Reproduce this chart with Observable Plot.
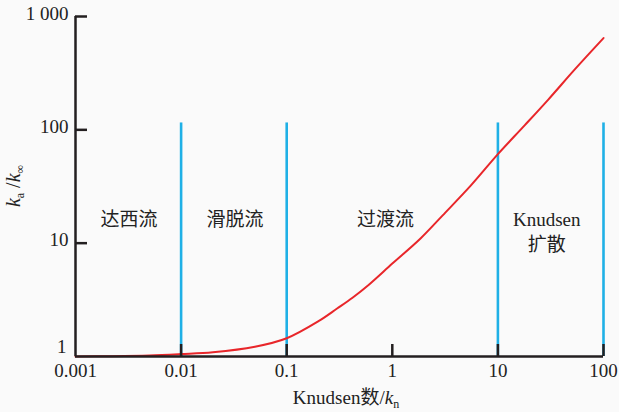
<!DOCTYPE html>
<html lang="zh">
<head>
<meta charset="utf-8">
<script src="https://cdn.jsdelivr.net/npm/d3@7"></script>
<script src="https://cdn.jsdelivr.net/npm/@observablehq/plot@0.6"></script>
<style>
  body { margin: 0; background: #ffffff; }
  #chart svg { background: #fafafa; display: block; }
  #chart svg text, #chart svg tspan { font-family: "Liberation Serif", "Times New Roman", "Noto Sans CJK SC", serif; }
</style>
</head>
<body>
<div id="chart"></div>
<script>
// Knudsen number samples and k_a/k_inf values
const knudsen = [0.001, 0.002, 0.005, 0.01, 0.02, 0.05, 0.1, 0.2, 0.3, 0.42, 0.6, 1, 1.85, 3, 5.5, 10, 18, 30, 54, 100];
const ratio   = [1.0, 1.005, 1.02, 1.05, 1.09, 1.22, 1.45, 2.05, 2.65, 3.3, 4.3, 6.6, 11, 17.6, 32, 61, 110, 185, 345, 645];

// flow-regime boundaries (blue lines) and their top value
const boundaries = [0.01, 0.1, 10, 100];
const boundaryTop = 115;

// regime labels (first line / second line)
const regimeNames = ["达西流", "滑脱流", "过渡流", "Knudsen"];
const regimeNames2 = ["", "", "", "扩散"];
const regimeCenterX = [0.00321, 0.0324, 0.86, 29];
const regimeLine1Y = 16.1;
const regimeLine2Y = 9.7;

// ticks
const xTicks = [0.001, 0.01, 0.1, 1, 10, 100];
const xTickLabels = ["0.001", "0.01", "0.1", "1", "10", "100"];
const yTicks = [1, 10, 100, 1000];
const yTickLabels = ["1", "10", "100", "1 000"];

const curve = knudsen.map((k, i) => ({kn: k, r: ratio[i]}));
const labels1 = regimeNames.map((n, i) => ({x: regimeCenterX[i], y: regimeLine1Y, t: n}));
const labels2 = regimeNames2.map((n, i) => ({x: regimeCenterX[i], y: regimeLine2Y, t: n})).filter(d => d.t);
const xLabelOf = new Map(xTicks.map((t, i) => [t, xTickLabels[i]]));
const yLabelOf = new Map(yTicks.map((t, i) => [t, yTickLabels[i]]));

const font = "\"Liberation Serif\", \"Times New Roman\", \"Noto Sans CJK SC\", serif";

const chart = Plot.plot({
  width: 619,
  height: 412,
  marginLeft: 75,
  marginRight: 16,
  marginTop: 16,
  marginBottom: 56,
  style: {fontSize: "19px", color: "#222", background: "#fafafa"},
  x: {type: "log", domain: [0.001, 100]},
  y: {type: "log", domain: [1, 1000]},
  marks: [
    Plot.ruleX(boundaries, {y1: 1, y2: boundaryTop, stroke: "#1fb0e6", strokeWidth: 2.6}),
    Plot.line(curve, {x: "kn", y: "r", stroke: "#e8262a", strokeWidth: 2, curve: "catmull-rom"}),
    // axis lines
    Plot.ruleY([1], {stroke: "#231f20", strokeWidth: 2.5}),
    Plot.ruleX([0.001], {y1: 1, y2: 1000, stroke: "#231f20", strokeWidth: 2.5}),
    // inward ticks
    Plot.axisX(xTicks.slice(1), {tickSize: -12, stroke: "#231f20", strokeWidth: 2.5, text: null, label: null}),
    Plot.axisY(yTicks.slice(1), {tickSize: -12, stroke: "#231f20", strokeWidth: 2.5, text: null, label: null}),
    // tick labels
    Plot.text(xTicks, {x: d => d, frameAnchor: "bottom", dy: 20, text: d => xLabelOf.get(d), fontSize: 19, fill: "#222"}),
    Plot.text(yTicks.slice(1), {y: d => d, frameAnchor: "left", dx: -7, dy: -3, textAnchor: "end", text: d => yLabelOf.get(d), fontSize: 19, fill: "#222"}),
    Plot.text(yTicks.slice(0, 1), {y: d => d, frameAnchor: "left", dx: -9, dy: -10, textAnchor: "end", text: d => yLabelOf.get(d), fontSize: 19, fill: "#222"}),
    // regime labels
    Plot.text(labels1, {x: "x", y: "y", text: "t", fontSize: 19, fill: "#222"}),
    Plot.text(labels2, {x: "x", y: "y", text: "t", fontSize: 19, fill: "#222"})
  ]
});

// axis titles with italics / subscripts
const svg = d3.select(chart);
const ty = svg.append("text")
  .attr("transform", "translate(20,186) rotate(-90)")
  .attr("text-anchor", "middle")
  .attr("font-size", 20)
  .attr("fill", "#222");
ty.append("tspan").attr("font-style", "italic").text("k");
ty.append("tspan").attr("font-size", 12).attr("dy", 4).text("a");
ty.append("tspan").attr("dy", -4).text(" /");
ty.append("tspan").attr("font-style", "italic").text("k");
ty.append("tspan").attr("font-size", 12).attr("dy", 4).text("∞");

const tx = svg.append("text")
  .attr("x", 346).attr("y", 404)
  .attr("text-anchor", "middle")
  .attr("font-size", 19)
  .attr("fill", "#222");
tx.append("tspan").text("Knudsen数/");
tx.append("tspan").attr("font-style", "italic").text("k");
tx.append("tspan").attr("font-size", 12).attr("dy", 4).text("n");

svg.selectAll("text, tspan").style("font-family", font);

document.getElementById("chart").appendChild(chart);
</script>
</body>
</html>
